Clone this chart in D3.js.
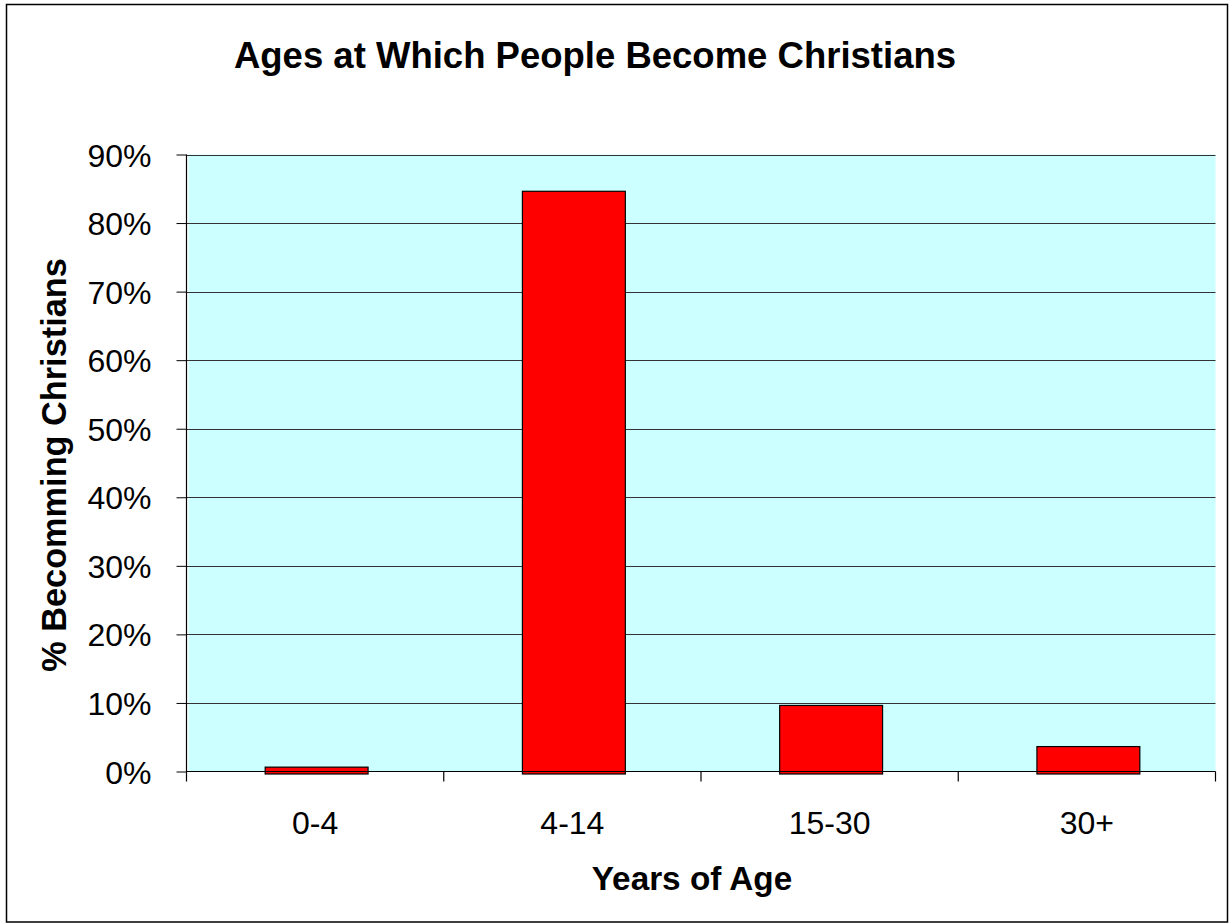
<!DOCTYPE html>
<html>
<head>
<meta charset="utf-8">
<script src="https://cdn.jsdelivr.net/npm/d3@7"></script>
<style>
  html, body { margin: 0; padding: 0; background: #fff; }
  svg { display: block; }
  text { font-family: "Liberation Sans", Arial, sans-serif; fill: #000; }
</style>
</head>
<body>
<svg id="chart" width="1230" height="924"></svg>
<script>
const categories = ["0-4", "4-14", "15-30", "30+"];
const values = [0.01, 0.85, 0.10, 0.04];
const yTicks = [0, 0.1, 0.2, 0.3, 0.4, 0.5, 0.6, 0.7, 0.8, 0.9];
const title = "Ages at Which People Become Christians";
const xTitle = "Years of Age";
const yTitle = "% Becomming Christians";

const svg = d3.select("#chart");
const L = 186.5, R = 1215.5, T = 154.5, B = 771.5;

// outer border
svg.append("rect").attr("x", 6.5).attr("y", 4.5).attr("width", 1221).attr("height", 917.5)
  .attr("fill", "#fff").attr("stroke", "#000").attr("stroke-width", 1.5);

const x = d3.scaleBand().domain(categories).range([L, R]).padding(0);
const y = d3.scaleLinear().domain([0, 0.9]).range([B, T]);

// plot background
svg.append("rect").attr("x", L + 2).attr("y", T).attr("width", R - L - 2).attr("height", B - T)
  .attr("fill", "#CCFFFF");

// gridlines
svg.append("g").selectAll("line").data(yTicks.filter(d => d > 0)).join("line")
  .attr("x1", L).attr("x2", R)
  .attr("y1", d => Math.round(y(d)) + 0.5).attr("y2", d => Math.round(y(d)) + 0.5)
  .attr("stroke", "#333").attr("stroke-width", 1);

// bars
const bw = x.bandwidth() * 0.4;
svg.append("g").selectAll("rect").data(categories).join("rect")
  .attr("x", (d) => x(d) + (x.bandwidth() - bw) / 2 + 1.5)
  .attr("y", (d, i) => y(values[i]) + 2.5)
  .attr("width", bw)
  .attr("height", (d, i) => B - y(values[i]))
  .attr("fill", "#FF0000").attr("stroke", "#000").attr("stroke-width", 1.2);

// baseline
svg.append("line").attr("x1", L).attr("x2", R).attr("y1", B).attr("y2", B)
  .attr("stroke", "#000").attr("stroke-width", 1.2);

// y axis
const yAxis = d3.axisLeft(y).tickValues(yTicks).tickSize(10).tickPadding(25)
  .tickFormat(d3.format(".0%"));
const gy = svg.append("g").attr("transform", `translate(${L},0)`).call(yAxis);
gy.select(".domain").remove();
gy.selectAll(".tick line").attr("stroke", "#000");
gy.selectAll(".tick text").attr("font-size", 32).attr("font-family", "Liberation Sans, Arial, sans-serif")
  .attr("fill", "#000").attr("dy", "0.36em");
svg.append("line").attr("x1", L).attr("x2", L).attr("y1", T).attr("y2", B + 10)
  .attr("stroke", "#000").attr("stroke-width", 1.2);

// x axis boundary ticks
const bounds = categories.map(c => x(c)).concat([R]).slice(1);
svg.append("g").selectAll("line").data(bounds).join("line")
  .attr("x1", d => d).attr("x2", d => d).attr("y1", B).attr("y2", B + 10)
  .attr("stroke", "#000").attr("stroke-width", 1.2);

// x labels
svg.append("g").selectAll("text").data(categories).join("text")
  .attr("x", d => x(d) + x.bandwidth() / 2).attr("y", 834)
  .attr("text-anchor", "middle").attr("font-size", 32).text(d => d);

// titles
svg.append("text").attr("x", 595).attr("y", 68).attr("text-anchor", "middle")
  .attr("font-size", 36.5).attr("font-weight", "bold").text(title);
svg.append("text").attr("x", 692).attr("y", 890).attr("text-anchor", "middle")
  .attr("font-size", 33.3).attr("font-weight", "bold").text(xTitle);
svg.append("text").attr("transform", "translate(66,465) rotate(-90)").attr("text-anchor", "middle")
  .attr("font-size", 34.3).attr("font-weight", "bold").text(yTitle);
</script>
</body>
</html>
